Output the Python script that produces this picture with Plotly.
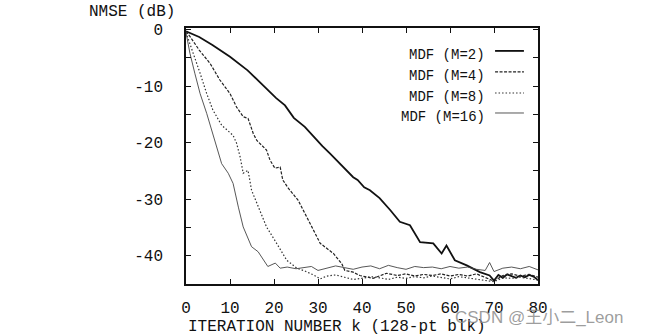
import plotly.graph_objects as go

# ---- data ----
k_m2 = [0, 3, 6, 10, 14, 17.5, 20.5, 22.5, 24.5, 27, 29, 31, 32.7, 34.5, 36.5, 38, 39, 40.5, 41.8, 44, 46.4,
        48.6, 50.9, 53.2, 56.2, 58.1, 59.2, 61.1, 63.8, 66.8, 69, 70, 71, 72, 73, 74, 75, 76, 77, 78, 79, 80]
nmse_m2 = [-0.3, -1.3, -2.7, -4.8, -7.2, -9.8, -12.1, -13.4, -15.6, -17.2, -19.0, -20.6, -21.9, -23.3, -24.9,
           -26.1, -26.6, -27.9, -28.4, -29.8, -31.9, -34.0, -34.6, -37.6, -37.8, -39.6, -38.2, -40.8, -41.7,
           -42.9, -43.5, -44.4, -43.4, -43.9, -43.3, -43.6, -43.9, -43.5, -43.8, -43.4, -43.7, -44.3]

k_m4 = [0, 1, 3, 5.5, 7.7, 10, 11.5, 13, 14.1, 15.3, 16.1, 18.3, 19.1, 20.2, 21.4, 22, 23.2, 23.6, 25.5, 28.2,
        30.5, 33.5, 35.4, 36.1, 38, 39.5, 42.5, 45.6, 48, 50, 52, 54, 56, 58, 60, 62, 64, 66, 68, 70, 72, 74,
        76, 78, 80]
nmse_m4 = [-0.3, -1.3, -3.6, -6.0, -8.9, -11.3, -13.7, -15.4, -15.7, -18.4, -19.6, -21.3, -23.1, -24.5, -24.3,
           -26.6, -28.0, -28.4, -30.2, -34.3, -37.8, -39.6, -41.4, -42.6, -42.9, -43.5, -44.0, -43.1, -43.5,
           -43.2, -43.6, -43.3, -43.5, -43.2, -43.6, -43.3, -43.6, -43.2, -43.8, -44.5, -43.5, -43.2, -43.6,
           -43.3, -43.8]

k_m8 = [0, 1.7, 3.2, 4.7, 6.1, 8.1, 10.7, 11.5, 12.3, 13, 14.1, 14.9, 16.8, 18.3, 20.6, 22.9, 25.2, 27, 29,
        30.5, 32, 34, 36, 38, 40, 42, 44, 46, 48, 50, 52, 54, 56, 58, 60, 62, 64, 66, 68, 70, 72, 74, 76, 78, 80]
nmse_m8 = [-0.5, -4.2, -7.7, -11.3, -14.2, -16.9, -18.7, -20.1, -22.5, -25.4, -24.9, -28.4, -31.9, -34.9,
           -37.8, -40.8, -42.2, -42.7, -43.4, -44.1, -43.6, -43.4, -43.8, -44.2, -44.0, -43.7, -43.9, -44.2,
           -43.8, -44.0, -43.7, -43.9, -43.6, -43.9, -44.1, -43.7, -43.9, -44.2, -44.4, -44.6, -43.9, -44.0,
           -43.8, -44.1, -44.3]

k_m16 = [0, 0.9, 2, 3.2, 4.7, 6.1, 7.3, 8.1, 9.6, 10.7, 11.9, 13, 14.9, 16.4, 18.6, 20.3, 21.4, 23, 25, 27,
         28.5, 30, 32, 34, 36, 38, 40, 42, 44, 46, 48, 50, 52, 54, 56, 58, 60, 62, 64, 66, 68, 69, 70, 72, 74,
         76, 78, 80]
nmse_m16 = [-0.5, -4.2, -7.7, -11.3, -14.8, -18.6, -21.9, -23.7, -25.4, -27.2, -31.4, -34.9, -38.4, -39.3,
            -41.9, -41.3, -42.2, -42.0, -42.3, -42.1, -41.9, -42.6, -42.2, -41.8, -42.1, -42.4, -42.0, -41.8,
            -42.3, -41.7, -42.1, -42.4, -41.9, -42.1, -42.0, -42.3, -41.9, -42.2, -42.0, -42.4, -42.6, -41.2,
            -42.8, -42.2, -42.0, -42.3, -41.9, -42.5]

legend_labels = ["MDF(M=2)", "MDF(M=4)", "MDF(M=8)", "MDF(M=16)"]
x_ticks = [0, 10, 20, 30, 40, 50, 60, 70, 80]
y_ticks = [0, -10, -20, -30, -40]

series = [(k_m2, nmse_m2), (k_m4, nmse_m4), (k_m8, nmse_m8), (k_m16, nmse_m16)]
styles = [dict(color="#111111", width=1.8, dash="solid"),
          dict(color="#222222", width=1.2, dash="3px,1.5px"),
          dict(color="#333333", width=1.2, dash="1.5px,2px"),
          dict(color="#444444", width=0.9, dash="solid")]

MONO = "Liberation Mono, Courier New, monospace"

fig = go.Figure()
for (xs, ys), st, name in zip(series, styles, legend_labels):
    fig.add_trace(go.Scatter(x=xs, y=ys, mode="lines", line=st, name=name, showlegend=False))

# legend drawn as text + line samples (text left of the line, as in the original)
row_y = [0.8945, 0.8125, 0.730, 0.652]
for lab, st, yy in zip(legend_labels, styles, row_y):
    fig.add_annotation(x=0.855, y=yy, xref="paper", yref="paper", text=lab.replace("(", " ("),
                       showarrow=False, xanchor="right", yanchor="middle",
                       font=dict(family=MONO, size=14, color="#111"))
    fig.add_shape(type="line", xref="paper", yref="paper", x0=0.878, x1=0.960, y0=yy + 0.016, y1=yy + 0.016,
                  line=st)

fig.add_annotation(x=-0.281, y=1.0625, xref="paper", yref="paper", text="NMSE (dB)", showarrow=False,
                   xanchor="left", yanchor="middle", font=dict(family=MONO, size=16, color="#111"))
fig.add_annotation(x=0.0, y=-0.168, xref="paper", yref="paper", text="ITERATION NUMBER k (128-pt blk)",
                   showarrow=False, xanchor="left", yanchor="middle",
                   font=dict(family=MONO, size=16, color="#111"))
fig.add_annotation(x=0.759, y=-0.129, xref="paper", yref="paper", text="CSDN @王小二_Leon",
                   showarrow=False, xanchor="left", yanchor="middle",
                   font=dict(family="Liberation Sans, Noto Sans CJK SC, sans-serif", size=17,
                             color="rgba(140,140,140,0.85)"))

fig.update_layout(
    width=651, height=336,
    margin=dict(l=186, r=113, t=28, b=52),
    plot_bgcolor="white", paper_bgcolor="white",
    font=dict(family=MONO, size=16, color="#111"),
)
fig.update_xaxes(range=[0, 80], tickvals=x_ticks, ticktext=[str(v) for v in x_ticks],
                 showgrid=False, zeroline=False, showline=True, linecolor="#111", linewidth=1.5,
                 mirror="allticks", ticks="inside", ticklen=5, tickcolor="#111", ticklabelstandoff=8)
fig.update_yaxes(range=[-45, 0.3], tickvals=y_ticks, ticktext=[str(v) for v in y_ticks],
                 showgrid=False, zeroline=False, showline=True, linecolor="#111", linewidth=1.5,
                 mirror="allticks", ticks="inside", ticklen=5, tickcolor="#111", ticklabelstandoff=18,
                 minor=dict(dtick=5, ticks="inside", ticklen=5, tickcolor="#111", showgrid=False))

fig.write_html("out.html")
